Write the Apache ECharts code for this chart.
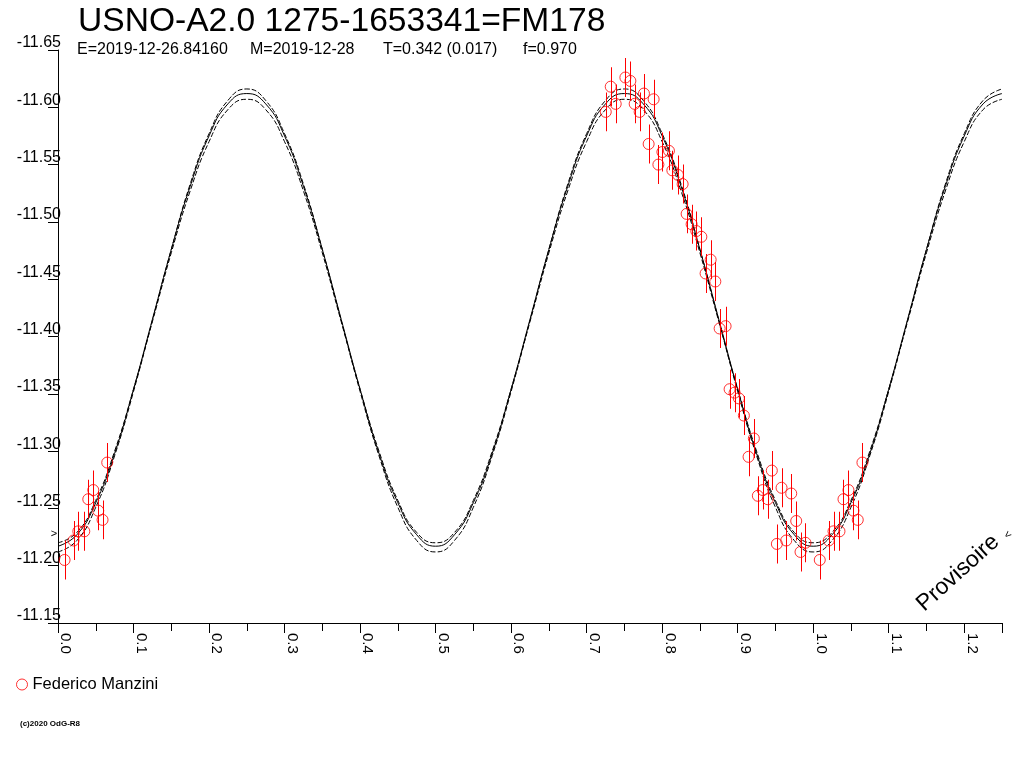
<!DOCTYPE html>
<html>
<head>
<meta charset="utf-8">
<style>
html,body{margin:0;padding:0;background:#fff;}
#chart{width:1024px;height:768px;}
</style>
<script src="https://cdn.jsdelivr.net/npm/echarts@6/dist/echarts.min.js"></script>
</head>
<body>
<div id="chart"></div>
<script>
// ---- data ----
const titleText = 'USNO-A2.0 1275-1653341=FM178';
const subtitleParts = ['E=2019-12-26.84160', 'M=2019-12-28', 'T=0.342 (0.017)', 'f=0.970'];
const observer = 'Federico Manzini';

// observations: phase, magnitude, error
const obsPhase = [0.7319,0.7253,0.7385,0.7513,0.7579,0.7759,0.7636,0.7702,0.7887,0.7821,
  0.8003,0.8090,0.7950,0.8135,0.8209,0.8271,0.8324,0.8390,0.8452,0.8519,
  0.8642,0.8575,0.8704,0.8761,0.8840,0.8893,0.8959,0.9016,0.9082,0.9214,
  0.9144,0.9452,0.9333,0.9267,0.9399,0.9581,0.9709,0.9775,0.9519,0.9643,
  0.9898,0.9832,1.0087,1.0206,1.0269,1.0348,1.0401,1.0467,1.0533,1.0590,1.0652];
const obsMag = [-11.618,-11.596,-11.603,-11.626,-11.623,-11.612,-11.603,-11.596,-11.607,-11.568,
  -11.561,-11.562,-11.550,-11.545,-11.541,-11.533,-11.507,-11.498,-11.492,-11.487,
  -11.467,-11.455,-11.448,-11.407,-11.409,-11.354,-11.351,-11.346,-11.331,-11.311,
  -11.295,-11.283,-11.266,-11.261,-11.258,-11.268,-11.263,-11.239,-11.219,-11.222,
  -11.220,-11.212,-11.205,-11.222,-11.230,-11.230,-11.258,-11.266,-11.248,-11.240,-11.290];
const obsErr = [0.017,0.017,0.017,0.017,0.017,0.017,0.017,0.017,0.017,0.017,
  0.017,0.017,0.017,0.017,0.017,0.017,0.017,0.017,0.017,0.017,
  0.017,0.017,0.017,0.017,0.017,0.017,0.017,0.017,0.017,0.017,
  0.017,0.017,0.017,0.017,0.017,0.017,0.017,0.017,0.017,0.017,
  0.017,0.017,0.017,0.017,0.017,0.017,0.017,0.017,0.017,0.017,0.017];

// fitted light curve (solid) and its two envelopes (dashed)
const curvePhase = [0,0.025,0.05,0.075,0.1,0.125,0.15,0.175,0.2,0.225,
  0.25,0.275,0.3,0.325,0.35,0.375,0.4,0.425,0.45,0.475,
  0.5,0.525,0.55,0.575,0.6,0.625,0.65,0.675,0.7,0.725,
  0.75,0.775,0.8,0.825,0.85,0.875,0.9,0.925,0.95,0.975,
  1.0,1.025,1.05,1.075,1.1,1.125,1.15,1.175,1.2,1.225,1.25];
const curveFit = [-11.217,-11.227,-11.255,-11.298,-11.354,-11.415,-11.476,-11.531,-11.575,-11.603,
  -11.612,-11.603,-11.575,-11.531,-11.476,-11.415,-11.354,-11.298,-11.255,-11.227,
  -11.217,-11.227,-11.255,-11.298,-11.354,-11.415,-11.476,-11.531,-11.575,-11.603,
  -11.612,-11.603,-11.575,-11.531,-11.476,-11.415,-11.354,-11.298,-11.255,-11.227,
  -11.217,-11.227,-11.255,-11.298,-11.354,-11.415,-11.476,-11.531,-11.575,-11.603,-11.612];
const curveOuter = [-11.212,-11.222,-11.251,-11.296,-11.352,-11.414,-11.476,-11.533,-11.577,-11.606,
  -11.616,-11.606,-11.577,-11.533,-11.476,-11.414,-11.352,-11.296,-11.251,-11.222,
  -11.212,-11.222,-11.251,-11.296,-11.352,-11.414,-11.476,-11.533,-11.577,-11.606,
  -11.616,-11.606,-11.577,-11.533,-11.476,-11.414,-11.352,-11.296,-11.251,-11.222,
  -11.212,-11.222,-11.251,-11.296,-11.352,-11.414,-11.476,-11.533,-11.577,-11.606,-11.616];
const curveInner = [-11.220,-11.229,-11.257,-11.300,-11.354,-11.413,-11.473,-11.527,-11.570,-11.598,
  -11.607,-11.598,-11.570,-11.527,-11.473,-11.413,-11.354,-11.300,-11.257,-11.229,
  -11.220,-11.229,-11.257,-11.300,-11.354,-11.413,-11.473,-11.527,-11.570,-11.598,
  -11.607,-11.598,-11.570,-11.527,-11.473,-11.413,-11.354,-11.300,-11.257,-11.229,
  -11.220,-11.229,-11.257,-11.300,-11.354,-11.413,-11.473,-11.527,-11.570,-11.598,-11.607];

// axis settings
const xMin = 0, xMax = 1.25, xStep = 0.1;
const yMin = -11.65, yMax = -11.15, yStep = 0.05;

// ---- build ----
const FONT = '"Liberation Sans", Arial, sans-serif';
const RED = '#ff0000';
const pts = [], bars = [];
for (let i = 0; i < obsPhase.length; i++) {
  const ph = obsPhase[i], m = obsMag[i], e = obsErr[i];
  pts.push([ph, m]);
  bars.push([ph, m - e, m + e]);
  if (ph >= 1) { // phased repeat
    pts.push([ph - 1, m]);
    bars.push([ph - 1, m - e, m + e]);
  }
}
const zip = (a, b) => a.map((v, i) => [v, b[i]]);
const subX = [77, 250, 383, 523];

const chart = echarts.init(document.getElementById('chart'), null, {renderer: 'canvas'});
const lineBase = {type: 'line', showSymbol: false, symbol: 'none', smooth: true, silent: true, z: 2};
const graphics = [
  {type: 'text', x: 78, y: 22, style: {text: titleText, font: '33.6px ' + FONT, fill: '#000', verticalAlign: 'middle'}},
  {type: 'text', x: 20, y: 724, style: {text: '(c)2020 OdG-R8', font: 'bold 8px ' + FONT, fill: '#000', verticalAlign: 'middle'}},
  {type: 'text', x: 958, y: 573, rotation: 42 * Math.PI / 180,
    style: {text: 'Provisoire', font: '23px ' + FONT, fill: '#000', align: 'center', verticalAlign: 'middle'}},
  {type: 'text', x: 1008, y: 535, rotation: 42 * Math.PI / 180,
    style: {text: '<', font: '11px ' + FONT, fill: '#000', align: 'center', verticalAlign: 'middle'}},
  {type: 'text', x: 54, y: 534, style: {text: '>', font: '11px ' + FONT, fill: '#000', align: 'center', verticalAlign: 'middle'}}
];
subtitleParts.forEach((t, i) => graphics.push(
  {type: 'text', x: subX[i], y: 50, style: {text: t, font: '16px ' + FONT, fill: '#000', verticalAlign: 'middle'}}
));

chart.setOption({
  animation: false,
  backgroundColor: '#ffffff',
  textStyle: {fontFamily: FONT},
  grid: {left: 58, right: 22, top: 50, bottom: 145},
  legend: {
    data: [observer], left: 16, top: 676, padding: 0,
    itemWidth: 11, itemHeight: 11, icon: 'circle',
    itemStyle: {color: 'transparent', borderColor: RED, borderWidth: 1},
    textStyle: {fontSize: 16.5, color: '#000', fontFamily: FONT}
  },
  xAxis: {
    type: 'value', min: xMin, max: xMax, interval: xStep,
    axisLine: {onZero: false, lineStyle: {color: '#000', width: 1}},
    axisTick: {show: true, length: 10, lineStyle: {color: '#000'}},
    minorTick: {show: true, splitNumber: 2, length: 8, lineStyle: {color: '#000'}},
    splitLine: {show: false}, minorSplitLine: {show: false},
    axisLabel: {
      rotate: -90, margin: 10, fontSize: 15, color: '#000', fontFamily: FONT,
      verticalAlign: 'bottom', showMaxLabel: false,
      formatter: v => (Math.abs(v * 10 - Math.round(v * 10)) < 1e-6 ? v.toFixed(1) : '')
    }
  },
  yAxis: {
    type: 'value', inverse: true, min: yMin, max: yMax, interval: yStep,
    axisLine: {show: true, onZero: false, lineStyle: {color: '#000', width: 1}},
    axisTick: {show: true, length: 10, lineStyle: {color: '#000'}},
    splitLine: {show: false},
    axisLabel: {
      margin: -3, fontSize: 16, lineHeight: 14, color: '#000', fontFamily: FONT, verticalAlign: 'bottom',
      formatter: v => v.toFixed(2)
    }
  },
  graphic: graphics,
  series: [
    Object.assign({}, lineBase, {name: 'fit', data: zip(curvePhase, curveFit), lineStyle: {color: '#000', width: 1}}),
    Object.assign({}, lineBase, {name: 'outer', data: zip(curvePhase, curveOuter), lineStyle: {color: '#000', width: 1, type: [5, 2]}}),
    Object.assign({}, lineBase, {name: 'inner', data: zip(curvePhase, curveInner), lineStyle: {color: '#000', width: 1, type: [5, 2]}}),
    {
      type: 'custom', name: 'err', silent: true, z: 3, data: bars,
      encode: {x: 0, y: [1, 2]},
      itemStyle: {color: RED},
      renderItem: (params, api) => {
        const a = api.coord([api.value(0), api.value(1)]);
        const b = api.coord([api.value(0), api.value(2)]);
        const x = Math.round(a[0]);
        const y0 = Math.min(a[1], b[1]), h = Math.abs(b[1] - a[1]);
        return {type: 'rect', shape: {x: x, y: y0, width: 1, height: h}, style: {fill: RED, stroke: null}};
      }
    },
    {
      type: 'scatter', name: observer, data: pts, symbol: 'circle', symbolSize: 11, z: 4,
      itemStyle: {color: 'transparent', borderColor: RED, borderWidth: 1},
      emphasis: {disabled: true}
    }
  ]
});
</script>
</body>
</html>
